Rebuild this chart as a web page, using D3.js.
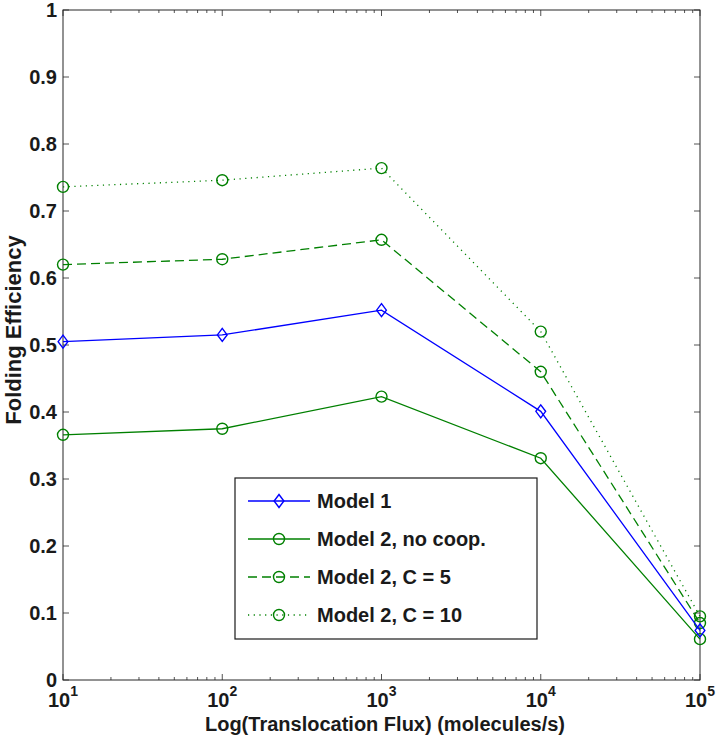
<!DOCTYPE html>
<html lang="en">
<head>
<meta charset="UTF-8">
<title>Folding Efficiency vs Translocation Flux</title>
<style>
  body { margin: 0; background: #fff; font-family: "Liberation Sans", Arial, sans-serif; }
  svg { display: block; }
  .tick-label { font-weight: bold; font-size: 20px; fill: #1a1a1a; }
  .axis-title { font-weight: bold; font-size: 20px; fill: #1a1a1a; }
  .legend-text { font-weight: bold; font-size: 20px; fill: #1a1a1a; }
</style>
</head>
<body>
<svg id="chart"></svg>
<script src="https://d3js.org/d3.v7.min.js"></script>
<script>
// x values (molecules/s)
const flux = [10, 100, 1000, 10000, 100000];
const xTickExps = [1, 2, 3, 4, 5];
const yTicks = [0, 0.1, 0.2, 0.3, 0.4, 0.5, 0.6, 0.7, 0.8, 0.9, 1];

// series values
const model1 = [0.505, 0.515, 0.552, 0.401, 0.074];
const model2NoCoop = [0.366, 0.375, 0.423, 0.331, 0.061];
const model2C5 = [0.620, 0.628, 0.657, 0.460, 0.085];
const model2C10 = [0.736, 0.746, 0.764, 0.520, 0.095];

const seriesNames = ['Model 1', 'Model 2, no coop.', 'Model 2, C = 5', 'Model 2, C = 10'];

const BLUE = '#0000ff', GREEN = '#008000';
const series = [
  { name: seriesNames[0], values: model1, color: BLUE, dash: null, marker: 'diamond' },
  { name: seriesNames[1], values: model2NoCoop, color: GREEN, dash: null, marker: 'circle' },
  { name: seriesNames[2], values: model2C5, color: GREEN, dash: '9,5', marker: 'circle' },
  { name: seriesNames[3], values: model2C10, color: GREEN, dash: '1.2,4.5', marker: 'circle' }
];

const width = 719, height = 742;
const margin = { left: 63, right: 19, top: 10, bottom: 62 };
const x0 = margin.left, x1 = width - margin.right;
const y0 = height - margin.bottom, y1 = margin.top;

const svg = d3.select('#chart').attr('width', width).attr('height', height);

const x = d3.scaleLog().domain([10, 100000]).range([x0, x1]);
const y = d3.scaleLinear().domain([0, 1]).range([y0, y1]);

const axisColor = '#262626';
const axes = svg.append('g');

// minor + major x ticks on bottom and top (inward)
const minorX = [];
for (let e = 1; e < 5; e++) for (let m = 2; m <= 9; m++) minorX.push(m * Math.pow(10, e));
minorX.forEach(v => {
  axes.append('line').attr('x1', x(v)).attr('x2', x(v)).attr('y1', y0).attr('y2', y0 - 3)
    .attr('stroke', axisColor).attr('stroke-width', 0.8);
  axes.append('line').attr('x1', x(v)).attr('x2', x(v)).attr('y1', y1).attr('y2', y1 + 3)
    .attr('stroke', axisColor).attr('stroke-width', 0.8);
});
xTickExps.forEach(e => {
  const v = Math.pow(10, e);
  axes.append('line').attr('x1', x(v)).attr('x2', x(v)).attr('y1', y0).attr('y2', y0 - 6)
    .attr('stroke', axisColor).attr('stroke-width', 0.8);
  axes.append('line').attr('x1', x(v)).attr('x2', x(v)).attr('y1', y1).attr('y2', y1 + 6)
    .attr('stroke', axisColor).attr('stroke-width', 0.8);
  const t = axes.append('text').attr('class', 'tick-label')
    .attr('x', x(v)).attr('y', y0 + 27).attr('text-anchor', 'middle');
  t.append('tspan').text('10');
  t.append('tspan').attr('dy', -11).attr('font-size', 14).text(e);
});

// y ticks left and right
yTicks.forEach(v => {
  axes.append('line').attr('x1', x0).attr('x2', x0 + 6).attr('y1', y(v)).attr('y2', y(v))
    .attr('stroke', axisColor).attr('stroke-width', 0.8);
  axes.append('line').attr('x1', x1).attr('x2', x1 - 6).attr('y1', y(v)).attr('y2', y(v))
    .attr('stroke', axisColor).attr('stroke-width', 0.8);
  axes.append('text').attr('class', 'tick-label')
    .attr('x', x0 - 6).attr('y', y(v)).attr('dy', '0.36em').attr('text-anchor', 'end')
    .text(v === 0 || v === 1 ? d3.format('d')(v) : d3.format('.1f')(v));
});

// frame
axes.append('rect').attr('x', x0).attr('y', y1).attr('width', x1 - x0).attr('height', y0 - y1)
  .attr('fill', 'none').attr('stroke', axisColor).attr('stroke-width', 1);

// axis titles
svg.append('text').attr('class', 'axis-title')
  .attr('x', 385).attr('y', 731).attr('text-anchor', 'middle')
  .text('Log(Translocation Flux) (molecules/s)');
svg.append('text').attr('class', 'axis-title')
  .attr('transform', 'translate(21,330) rotate(-90)')
  .attr('text-anchor', 'middle')
  .style('font-size', '22px')
  .text('Folding Efficiency');

const line = d3.line().x(d => x(d[0])).y(d => y(d[1]));

function drawMarker(g, type, cx, cy, color) {
  if (type === 'circle') {
    g.append('circle').attr('cx', cx).attr('cy', cy).attr('r', 5.5)
      .attr('fill', 'none').attr('stroke', color).attr('stroke-width', 1.4);
  } else {
    const s = 6.5;
    g.append('path').attr('d', `M${cx},${cy - s}L${cx + s * 0.75},${cy}L${cx},${cy + s}L${cx - s * 0.75},${cy}Z`)
      .attr('fill', 'none').attr('stroke', color).attr('stroke-width', 1.4);
  }
}

const plot = svg.append('g');
// draw in reverse so Model 1 is on top
series.slice().reverse().forEach(s => {
  const pts = flux.map((f, i) => [f, s.values[i]]);
  plot.append('path').attr('d', line(pts)).attr('fill', 'none')
    .attr('stroke', s.color).attr('stroke-width', 1.3)
    .attr('stroke-dasharray', s.dash);
  pts.forEach(p => drawMarker(plot, s.marker, x(p[0]), y(p[1]), s.color));
});

// legend
const lg = svg.append('g');
const lx = 235, ly = 478, lw = 302, lh = 161;
lg.append('rect').attr('x', lx).attr('y', ly).attr('width', lw).attr('height', lh)
  .attr('fill', '#fff').attr('stroke', '#1a1a1a').attr('stroke-width', 1.2);
series.forEach((s, i) => {
  const cy = ly + 23 + i * 38;
  lg.append('line').attr('x1', lx + 13).attr('x2', lx + 75).attr('y1', cy).attr('y2', cy)
    .attr('stroke', s.color).attr('stroke-width', 1.3).attr('stroke-dasharray', s.dash);
  drawMarker(lg, s.marker, lx + 44, cy, s.color);
  lg.append('text').attr('class', 'legend-text').attr('x', lx + 82).attr('y', cy).attr('dy', '0.36em')
    .text(s.name);
});
</script>
</body>
</html>
